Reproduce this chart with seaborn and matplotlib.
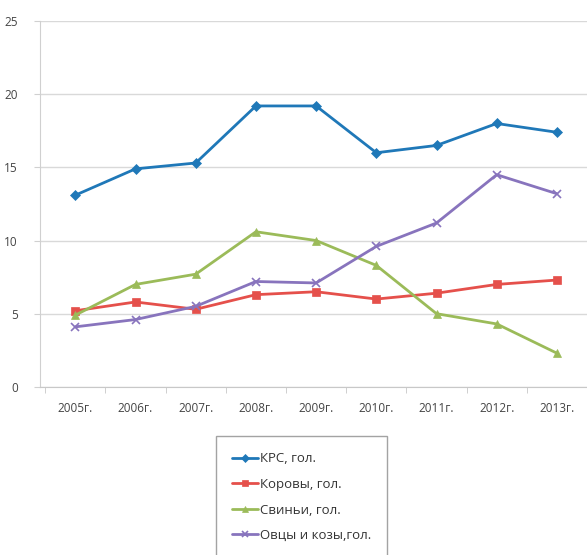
import pandas as pd
import seaborn as sns
import matplotlib.pyplot as plt
import numpy as np

# Годы и ряды данных
годы = ['2005г.', '2006г.', '2007г.', '2008г.', '2009г.', '2010г.', '2011г.', '2012г.', '2013г.']
крс = [13.1, 14.9, 15.3, 19.2, 19.2, 16.0, 16.5, 18.0, 17.4]
коровы = [5.2, 5.8, 5.3, 6.3, 6.5, 6.0, 6.4, 7.0, 7.3]
свиньи = [4.9, 7.0, 7.7, 10.6, 10.0, 8.3, 5.0, 4.3, 2.3]
овцы = [4.1, 4.6, 5.5, 7.2, 7.1, 9.6, 11.2, 14.5, 13.2]

серии = ['КРС, гол.', 'Коровы, гол.', 'Свиньи, гол.', 'Овцы и козы,гол.']
цвета = ['#1f78b8', '#e5504b', '#9bbb59', '#8874bd']
маркеры = ['D', 's', '^', 'x']
размеры = [5, 6, 6, 6]

dados = pd.DataFrame({
    'год': годы * 4,
    'x': list(range(len(годы))) * 4,
    'значение': крс + коровы + свиньи + овцы,
    'серия': sum([[s] * len(годы) for s in серии], []),
})

sns.set_style('white')
plt.rcParams['font.family'] = ['Open Sans', 'DejaVu Sans']

fig = plt.figure(figsize=(5.87, 5.55), dpi=100)
ax = fig.add_axes([0.068, 0.303, 0.932, 0.659])

for s, c, m, ms in zip(серии, цвета, маркеры, размеры):
    sub = dados[dados['серия'] == s]
    sns.lineplot(data=sub, x='x', y='значение', ax=ax, color=c, marker=m,
                 markersize=ms, markeredgecolor=c,
                 markeredgewidth=1.2 if m == 'x' else 0.5,
                 linewidth=2, label=s)

ax.set_xlim(-0.588, 8.343)
ax.set_ylim(0, 25)
ax.set_yticks([0, 5, 10, 15, 20, 25])
ax.set_xticks(range(len(годы)))
ax.set_xticklabels(годы)
ax.set_xticks(np.arange(-0.5, 8.6, 1), minor=True)
ax.set_xlabel('')
ax.set_ylabel('')
ax.yaxis.grid(True, color='#d9d9d9', linewidth=1)
ax.set_axisbelow(True)
for side in ['top', 'right']:
    ax.spines[side].set_visible(False)
ax.spines['left'].set_color('#d0d0d0')
ax.spines['bottom'].set_color('#c8c8c8')
ax.tick_params(axis='x', which='major', labelsize=8.5, colors='#444444', length=0, pad=11)
ax.tick_params(axis='x', which='minor', length=4, color='#c8c8c8', bottom=True)
ax.tick_params(axis='y', labelsize=8.5, colors='#444444', length=4, color='#d0d0d0',
               left=True, pad=12)

leg = ax.get_legend()
leg.remove()
handles, labels = ax.get_legend_handles_labels()
fig.legend(handles, labels, loc='upper left', bbox_to_anchor=(216 / 587, 1 - 436 / 555),
           borderaxespad=0, frameon=True, fontsize=9.5, handlelength=1.9,
           handletextpad=0.15, labelspacing=0.95, borderpad=1.25, fancybox=False,
           edgecolor='#8c8c8c', labelcolor='#333333', markerscale=0.8)

plt.savefig('out.png', dpi=100)
